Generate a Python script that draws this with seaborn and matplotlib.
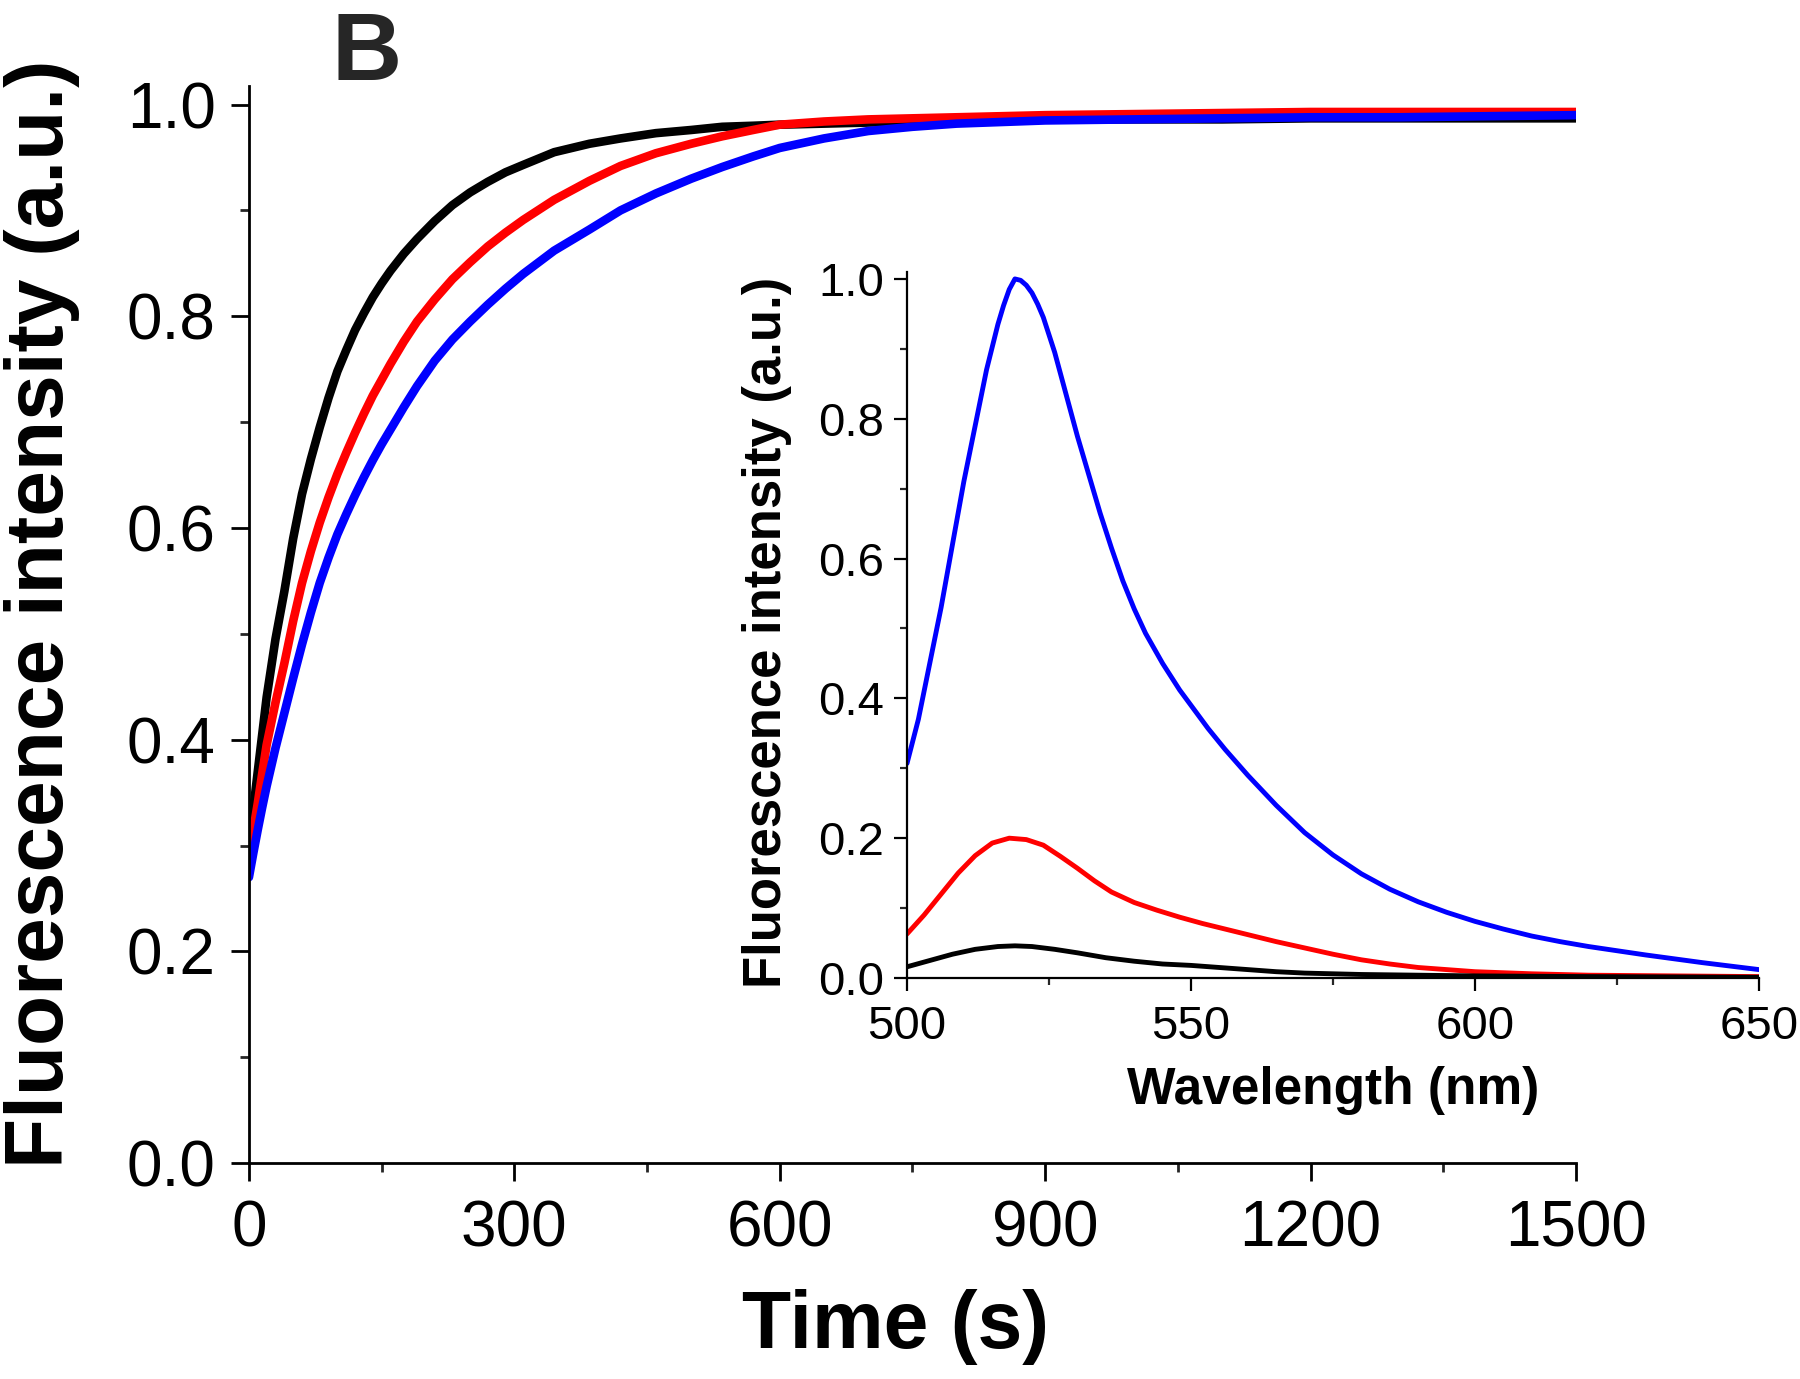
import matplotlib
matplotlib.use("Agg")
import matplotlib.pyplot as plt
from matplotlib.ticker import MultipleLocator
import seaborn as sns

# ---- Main panel data: fluorescence vs time ----
time_s = [0, 5, 10, 15, 20, 30, 40, 50, 60, 70, 80, 90, 100, 110, 120, 130, 140, 150,
          160, 175, 190, 210, 230, 250, 270, 290, 310, 345, 385, 420, 460, 500, 535,
          570, 600, 650, 700, 750, 800, 900, 1000, 1100, 1200, 1300, 1400, 1500]
black_kin = [0.300, 0.335, 0.370, 0.405, 0.440, 0.495, 0.540, 0.590, 0.632, 0.665,
             0.695, 0.723, 0.748, 0.768, 0.787, 0.803, 0.818, 0.831, 0.843, 0.859,
             0.873, 0.890, 0.905, 0.917, 0.927, 0.936, 0.943, 0.955, 0.963, 0.968,
             0.973, 0.976, 0.979, 0.980, 0.981, 0.982, 0.983, 0.984, 0.985, 0.986,
             0.986, 0.986, 0.987, 0.987, 0.987, 0.987]
red_kin = [0.290, 0.315, 0.340, 0.368, 0.395, 0.435, 0.472, 0.512, 0.548, 0.578,
           0.605, 0.629, 0.651, 0.671, 0.690, 0.708, 0.725, 0.740, 0.755, 0.776,
           0.795, 0.816, 0.835, 0.851, 0.866, 0.879, 0.891, 0.910, 0.928, 0.942,
           0.954, 0.963, 0.970, 0.976, 0.981, 0.984, 0.986, 0.987, 0.988, 0.990,
           0.991, 0.992, 0.993, 0.993, 0.993, 0.993]
blue_kin = [0.270, 0.293, 0.315, 0.336, 0.356, 0.392, 0.425, 0.458, 0.490, 0.520,
            0.548, 0.572, 0.594, 0.613, 0.631, 0.648, 0.664, 0.679, 0.693, 0.714,
            0.734, 0.758, 0.778, 0.795, 0.811, 0.826, 0.840, 0.862, 0.882, 0.900,
            0.916, 0.930, 0.941, 0.951, 0.959, 0.968, 0.975, 0.979, 0.982, 0.985,
            0.986, 0.987, 0.988, 0.988, 0.989, 0.990]

# ---- Inset data: emission spectra ----
wl_blue = [500, 502, 504, 506, 508, 510, 512, 514, 516, 517, 518, 519, 520, 521, 522,
           523, 524, 526, 528, 530, 532, 534, 536, 538, 540, 542, 545, 548, 550, 553,
           556, 560, 565, 570, 575, 580, 585, 590, 595, 600, 605, 610, 615, 620, 625,
           630, 640, 650]
blue_spec = [0.307, 0.37, 0.45, 0.53, 0.62, 0.71, 0.79, 0.87, 0.935, 0.962, 0.985,
             1.0, 0.998, 0.991, 0.98, 0.964, 0.945, 0.895, 0.835, 0.775, 0.72, 0.665,
             0.615, 0.568, 0.528, 0.493, 0.45, 0.412, 0.39, 0.357, 0.327, 0.290,
             0.247, 0.208, 0.176, 0.149, 0.127, 0.109, 0.094, 0.081, 0.070, 0.060,
             0.052, 0.045, 0.039, 0.033, 0.022, 0.012]
wl_red = [500, 503, 506, 509, 512, 515, 518, 521, 524, 527, 530, 533, 536, 540, 544,
          548, 552, 556, 560, 565, 570, 575, 580, 585, 590, 595, 600, 610, 620, 635, 650]
red_spec = [0.063, 0.09, 0.12, 0.15, 0.175, 0.193, 0.200, 0.198, 0.190, 0.174, 0.157,
            0.139, 0.123, 0.108, 0.097, 0.087, 0.078, 0.070, 0.062, 0.052, 0.043, 0.034,
            0.026, 0.020, 0.015, 0.012, 0.009, 0.006, 0.004, 0.003, 0.002]
wl_black = [500, 504, 508, 512, 516, 519, 522, 526, 530, 535, 540, 545, 550, 555, 560,
            565, 570, 575, 580, 590, 600, 620, 650]
black_spec = [0.016, 0.025, 0.034, 0.041, 0.045, 0.046, 0.045, 0.041, 0.036, 0.029,
              0.024, 0.020, 0.018, 0.015, 0.012, 0.009, 0.007, 0.006, 0.005, 0.004,
              0.003, 0.002, 0.001]

sns.set_theme(style="ticks")
plt.rcParams['font.family'] = ['Liberation Sans', 'DejaVu Sans']
plt.rcParams['axes.linewidth'] = 2.0

fig = plt.figure(figsize=(18, 13.79), dpi=100)
ax = fig.add_axes([0.1383, 0.1566, 0.7372, 0.781])

for y, c in [(black_kin, '#000000'), (red_kin, '#ff0000'), (blue_kin, '#0000ff')]:
    sns.lineplot(x=time_s, y=y, color=c, linewidth=6.2, ax=ax, legend=False)

ax.set_xlim(0, 1500)
ax.set_ylim(0, 1.0175)
ax.xaxis.set_major_locator(MultipleLocator(300))
ax.xaxis.set_minor_locator(MultipleLocator(150))
ax.yaxis.set_major_locator(MultipleLocator(0.2))
ax.yaxis.set_minor_locator(MultipleLocator(0.1))
ax.set_yticklabels([f"{v:.1f}" for v in ax.get_yticks()])
ax.tick_params(which='major', direction='out', length=13, width=2, labelsize=46, colors='black')
ax.tick_params(axis='x', which='major', pad=13)
ax.tick_params(axis='y', which='major', pad=11)
ax.tick_params(which='minor', direction='out', length=6.5, width=2)
for s in ['top', 'right']:
    ax.spines[s].set_visible(False)
for s in ['left', 'bottom']:
    ax.spines[s].set_color('black')
    ax.spines[s].set_linewidth(2)

ax.set_xlabel("Time (s)", fontsize=58, fontweight='bold', color='black')
ax.set_ylabel("Fluorescence intensity (a.u.)", fontsize=59, fontweight='bold', color='black')
ax.xaxis.set_label_coords(0.487, -0.117)
ax.yaxis.set_label_coords(-0.127, 0.51)

fig.text(0.184, 0.942, "B", fontsize=70, fontweight='bold', ha='left', va='baseline')

# ---- Inset ----
ax_in = fig.add_axes([0.5039, 0.2908, 0.4733, 0.512])
for xw, y, c in [(wl_blue, blue_spec, '#0000ff'), (wl_red, red_spec, '#ff0000'),
                 (wl_black, black_spec, '#000000')]:
    sns.lineplot(x=xw, y=y, color=c, linewidth=3.5, ax=ax_in, legend=False)

ax_in.set_xlim(500, 650)
ax_in.set_ylim(0, 1.01)
ax_in.xaxis.set_major_locator(MultipleLocator(50))
ax_in.xaxis.set_minor_locator(MultipleLocator(25))
ax_in.yaxis.set_major_locator(MultipleLocator(0.2))
ax_in.yaxis.set_minor_locator(MultipleLocator(0.1))
ax_in.set_yticklabels([f"{v:.1f}" for v in ax_in.get_yticks()])
ax_in.tick_params(which='major', direction='out', length=9.5, width=1.6, labelsize=34, colors='black')
ax_in.tick_params(axis='x', which='major', pad=10)
ax_in.tick_params(axis='y', which='major', pad=7)
ax_in.tick_params(which='minor', direction='out', length=5, width=1.6)
for s in ['top', 'right']:
    ax_in.spines[s].set_visible(False)
for s in ['left', 'bottom']:
    ax_in.spines[s].set_color('black')
    ax_in.spines[s].set_linewidth(1.6)
ax_in.set_facecolor('none')
ax_in.set_xlabel("Wavelength (nm)", fontsize=37, fontweight='bold', color='black')
ax_in.set_ylabel("Fluorescence intensity (a.u.)", fontsize=38, fontweight='bold', color='black')
ax_in.xaxis.set_label_coords(0.5, -0.125)
ax_in.yaxis.set_label_coords(-0.135, 0.49)

fig.savefig("out.png", dpi=100, facecolor='white')
